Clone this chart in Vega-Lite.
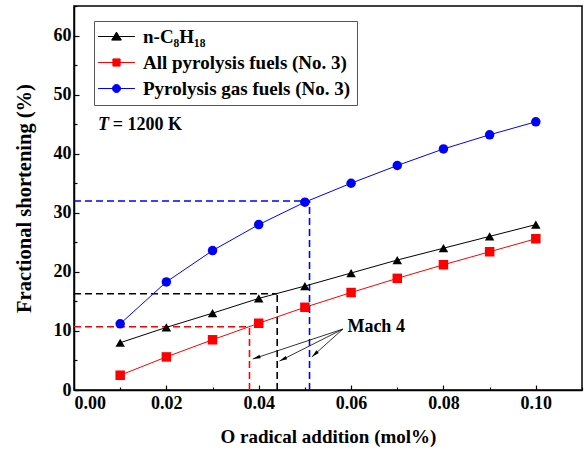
{
  "$schema": "https://vega.github.io/schema/vega-lite/v6.json",
  "width": 508,
  "height": 384,
  "autosize": {"type": "none"},
  "padding": {"left": 74, "top": 6, "right": 3, "bottom": 62},
  "background": "white",
  "config": {
    "view": {"stroke": "black", "strokeWidth": 1.5},
    "axis": {
      "grid": false,
      "domainColor": "black",
      "domainWidth": 1.5,
      "tickColor": "black",
      "tickWidth": 1.2,
      "tickSize": -5,
      "labelFont": "Liberation Serif",
      "labelFontWeight": "bold",
      "labelFontSize": 18,
      "labelColor": "black",
      "titleFont": "Liberation Serif",
      "titleFontWeight": "bold",
      "titleFontSize": 19,
      "titleColor": "black"
    }
  },
  "datasets": {
    "series": [
      {"x": 0.01, "y": 8.0, "s": "n-C₈H₁₈"},
      {"x": 0.02, "y": 10.6, "s": "n-C₈H₁₈"},
      {"x": 0.03, "y": 13.0, "s": "n-C₈H₁₈"},
      {"x": 0.04, "y": 15.5, "s": "n-C₈H₁₈"},
      {"x": 0.05, "y": 17.6, "s": "n-C₈H₁₈"},
      {"x": 0.06, "y": 19.8, "s": "n-C₈H₁₈"},
      {"x": 0.07, "y": 22.0, "s": "n-C₈H₁₈"},
      {"x": 0.08, "y": 24.0, "s": "n-C₈H₁₈"},
      {"x": 0.09, "y": 26.0, "s": "n-C₈H₁₈"},
      {"x": 0.10, "y": 28.0, "s": "n-C₈H₁₈"},
      {"x": 0.01, "y": 2.5, "s": "All pyrolysis fuels (No. 3)"},
      {"x": 0.02, "y": 5.6, "s": "All pyrolysis fuels (No. 3)"},
      {"x": 0.03, "y": 8.5, "s": "All pyrolysis fuels (No. 3)"},
      {"x": 0.04, "y": 11.3, "s": "All pyrolysis fuels (No. 3)"},
      {"x": 0.05, "y": 14.0, "s": "All pyrolysis fuels (No. 3)"},
      {"x": 0.06, "y": 16.5, "s": "All pyrolysis fuels (No. 3)"},
      {"x": 0.07, "y": 18.9, "s": "All pyrolysis fuels (No. 3)"},
      {"x": 0.08, "y": 21.2, "s": "All pyrolysis fuels (No. 3)"},
      {"x": 0.09, "y": 23.4, "s": "All pyrolysis fuels (No. 3)"},
      {"x": 0.10, "y": 25.6, "s": "All pyrolysis fuels (No. 3)"},
      {"x": 0.01, "y": 11.2, "s": "Pyrolysis gas fuels (No. 3)"},
      {"x": 0.02, "y": 18.3, "s": "Pyrolysis gas fuels (No. 3)"},
      {"x": 0.03, "y": 23.6, "s": "Pyrolysis gas fuels (No. 3)"},
      {"x": 0.04, "y": 28.0, "s": "Pyrolysis gas fuels (No. 3)"},
      {"x": 0.05, "y": 31.8, "s": "Pyrolysis gas fuels (No. 3)"},
      {"x": 0.06, "y": 35.0, "s": "Pyrolysis gas fuels (No. 3)"},
      {"x": 0.07, "y": 38.0, "s": "Pyrolysis gas fuels (No. 3)"},
      {"x": 0.08, "y": 40.8, "s": "Pyrolysis gas fuels (No. 3)"},
      {"x": 0.09, "y": 43.2, "s": "Pyrolysis gas fuels (No. 3)"},
      {"x": 0.10, "y": 45.4, "s": "Pyrolysis gas fuels (No. 3)"}
    ],
    "dashes": [
      {"x": 0, "y": 32.0, "x2": 0.051, "y2": 32.0, "s": "Pyrolysis gas fuels (No. 3)"},
      {"x": 0.051, "y": 0, "x2": 0.051, "y2": 32.0, "s": "Pyrolysis gas fuels (No. 3)"},
      {"x": 0, "y": 16.3, "x2": 0.044, "y2": 16.3, "s": "n-C₈H₁₈"},
      {"x": 0.044, "y": 0, "x2": 0.044, "y2": 16.3, "s": "n-C₈H₁₈"},
      {"x": 0, "y": 10.7, "x2": 0.038, "y2": 10.7, "s": "All pyrolysis fuels (No. 3)"},
      {"x": 0.038, "y": 0, "x2": 0.038, "y2": 10.7, "s": "All pyrolysis fuels (No. 3)"}
    ],
    "arrows": [
      {"x": 0.0582, "y": 10.3, "x2": 0.0387, "y2": 5.25},
      {"x": 0.0582, "y": 10.3, "x2": 0.0445, "y2": 4.9},
      {"x": 0.0582, "y": 10.3, "x2": 0.0515, "y2": 5.6}
    ]
  },
  "layer": [
    {
      "data": {"name": "dashes"},
      "mark": {"type": "rule", "strokeDash": [7, 4], "strokeWidth": 1.6},
      "encoding": {
        "x": {"field": "x", "type": "quantitative", "scale": {"domain": [0, 0.11], "nice": false, "zero": false},
              "axis": {"orient": "bottom", "values": [0.01, 0.03, 0.05, 0.07, 0.09, 0.11], "labels": false, "domain": false, "tickSize": -3, "title": null}},
        "y": {"field": "y", "type": "quantitative", "scale": {"domain": [0, 65], "nice": false},
              "axis": {"orient": "left", "values": [5, 15, 25, 35, 45, 55, 65], "labels": false, "domain": false, "tickSize": -3, "title": null}},
        "x2": {"field": "x2"},
        "y2": {"field": "y2"},
        "stroke": {"field": "s", "type": "nominal",
                  "scale": {"domain": ["n-C₈H₁₈", "All pyrolysis fuels (No. 3)", "Pyrolysis gas fuels (No. 3)"], "range": ["#000000", "#ff0000", "#0000ff"]}}
      }
    },
    {
      "data": {"name": "series"},
      "mark": {"type": "line", "strokeWidth": 1},
      "encoding": {
        "x": {"field": "x", "type": "quantitative",
              "axis": {"orient": "bottom", "values": [0, 0.02, 0.04, 0.06, 0.08, 0.1], "format": ".2f", "title": "O radical addition (mol%)", "labelPadding": 9, "titlePadding": 15}},
        "y": {"field": "y", "type": "quantitative",
              "axis": {"orient": "left", "values": [0, 10, 20, 30, 40, 50, 60], "title": "Fractional shortening (%)", "labelPadding": 8, "titlePadding": 19, "titleFontSize": 20.5}},
        "stroke": {"field": "s", "type": "nominal",
                  "legend": {
                    "orient": "none", "legendX": 20, "legendY": 15,
                    "title": null,
                    "strokeColor": "#555555",
                    "padding": 6,
                    "symbolSize": 64,
                    "symbolOffset": 7,
                    "symbolStrokeWidth": 1,
                    "labelOffset": 17,
                    "labelFont": "Liberation Serif",
                    "labelFontWeight": "bold",
                    "labelFontSize": 19,
                    "labelColor": "black",
                    "labelLimit": 400,
                    "rowPadding": 6,
                    "encode": {
                      "symbols": {
                        "update": {
                          "shape": {"signal": "datum.value == 'n-C₈H₁₈' ? 'M-4.6,0H4.6M0,-1.1L1.2,0.9L-1.2,0.9Z' : (datum.value == 'All pyrolysis fuels (No. 3)' ? 'M-4.6,0H4.6M-0.9,-0.9H0.9V0.9H-0.9Z' : 'M-4.6,0H4.6M-1,0A1,1 0 1,0 1,0A1,1 0 1,0 -1,0Z')"},
                          "fill": {"signal": "scale('stroke', datum.value)"},
                          "stroke": {"signal": "datum.value == 'n-C₈H₁₈' ? '#444444' : (datum.value == 'All pyrolysis fuels (No. 3)' ? '#ff3333' : '#7777ff')"},
                          "strokeWidth": {"value": 1},
                          "opacity": {"value": 1}
                        }
                      }
                    }
                  }}
      }
    },
    {
      "data": {"name": "series"},
      "transform": [{"filter": "datum.s == 'n-C₈H₁₈'"}],
      "mark": {"type": "point", "filled": true, "opacity": 1, "size": 90, "strokeWidth": 0, "shape": "triangle-up", "color": "#000000"},
      "encoding": {
        "x": {"field": "x", "type": "quantitative", "axis": null},
        "y": {"field": "y", "type": "quantitative", "axis": null}
      }
    },
    {
      "data": {"name": "series"},
      "transform": [{"filter": "datum.s == 'All pyrolysis fuels (No. 3)'"}],
      "mark": {"type": "point", "filled": true, "opacity": 1, "size": 90, "strokeWidth": 0, "shape": "square", "color": "#ff0000"},
      "encoding": {
        "x": {"field": "x", "type": "quantitative", "axis": null},
        "y": {"field": "y", "type": "quantitative", "axis": null}
      }
    },
    {
      "data": {"name": "series"},
      "transform": [{"filter": "datum.s == 'Pyrolysis gas fuels (No. 3)'"}],
      "mark": {"type": "point", "filled": true, "opacity": 1, "size": 90, "strokeWidth": 0, "shape": "circle", "color": "#0000ff"},
      "encoding": {
        "x": {"field": "x", "type": "quantitative", "axis": null},
        "y": {"field": "y", "type": "quantitative", "axis": null}
      }
    },
    {
      "data": {"name": "arrows"},
      "mark": {"type": "rule", "color": "black", "strokeWidth": 0.8},
      "encoding": {
        "x": {"field": "x", "type": "quantitative", "axis": null},
        "y": {"field": "y", "type": "quantitative", "axis": null},
        "x2": {"field": "x2"},
        "y2": {"field": "y2"}
      }
    },
    {
      "data": {"values": [{"x": 0.0387, "y": 5.25}]},
      "mark": {"type": "point", "filled": true, "color": "black", "opacity": 1, "size": 36, "shape": "M0,0L0.6,2.6L-0.6,2.6Z", "angle": 251.6},
      "encoding": {
        "x": {"field": "x", "type": "quantitative", "axis": null},
        "y": {"field": "y", "type": "quantitative", "axis": null}
      }
    },
    {
      "data": {"values": [{"x": 0.0445, "y": 4.9}]},
      "mark": {"type": "point", "filled": true, "color": "black", "opacity": 1, "size": 36, "shape": "M0,0L0.6,2.6L-0.6,2.6Z", "angle": 243.1},
      "encoding": {
        "x": {"field": "x", "type": "quantitative", "axis": null},
        "y": {"field": "y", "type": "quantitative", "axis": null}
      }
    },
    {
      "data": {"values": [{"x": 0.0515, "y": 5.6}]},
      "mark": {"type": "point", "filled": true, "color": "black", "opacity": 1, "size": 36, "shape": "M0,0L0.6,2.6L-0.6,2.6Z", "angle": 227.9},
      "encoding": {
        "x": {"field": "x", "type": "quantitative", "axis": null},
        "y": {"field": "y", "type": "quantitative", "axis": null}
      }
    },
    {
      "data": {"values": [{"x": 0.0592, "y": 10.66, "t": "Mach 4"}, {"x": 0.0084, "y": 44.9, "t": "= 1200 K"}]},
      "mark": {"type": "text", "align": "left", "baseline": "middle", "font": "Liberation Serif", "fontWeight": "bold", "fontSize": 18, "color": "black"},
      "encoding": {
        "x": {"field": "x", "type": "quantitative", "axis": null},
        "y": {"field": "y", "type": "quantitative", "axis": null},
        "text": {"field": "t"}
      }
    },
    {
      "data": {"values": [{"x": 0.0052, "y": 44.9, "t": "T"}]},
      "mark": {"type": "text", "align": "left", "baseline": "middle", "font": "Liberation Serif", "fontWeight": "bold", "fontStyle": "italic", "fontSize": 18, "color": "black"},
      "encoding": {
        "x": {"field": "x", "type": "quantitative", "axis": null},
        "y": {"field": "y", "type": "quantitative", "axis": null},
        "text": {"field": "t"}
      }
    }
  ],
  "resolve": {"axis": {"x": "independent", "y": "independent"}}
}
